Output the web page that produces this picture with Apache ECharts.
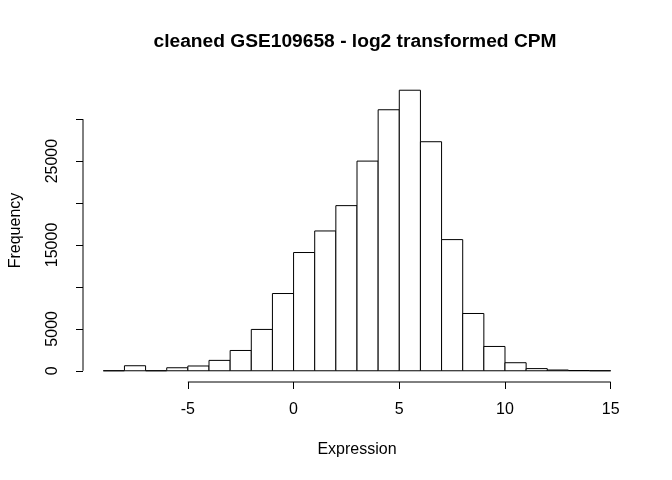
<!DOCTYPE html>
<html>
<head>
    <meta charset="utf-8">
    <title>Histogram</title>
    <script src="https://cdn.jsdelivr.net/npm/echarts@6/dist/echarts.min.js"></script>
    <style>
        html, body { margin: 0; padding: 0; background: #fff; }
    </style>
</head>
<body>
    <div id="main" style="width:672px;height:480px;"></div>
    <script type="text/javascript">
        // histogram bins (width 1) and counts
        var binStarts = [-9, -8, -7, -6, -5, -4, -3, -2, -1, 0, 1, 2, 3, 4, 5, 6, 7, 8, 9, 10, 11, 12, 13, 14];
        var counts = [0, 600, 0, 360, 570, 1240, 2420, 4930, 9210, 14100, 16670, 19690,
                      25000, 31120, 33450, 27310, 15640, 6830, 2900, 960, 260, 90, 30, 5];
        var binWidth = 1;
        var xTicks = [-5, 0, 5, 10, 15];
        var yTicks = [0, 5000, 10000, 15000, 20000, 25000, 30000];
        var yLabels = [0, 5000, 15000, 25000];

        var font = 'Liberation Sans, Arial, Helvetica, sans-serif';

        // R style 4% padding of the ranges
        var xLo = binStarts[0], xHi = binStarts[binStarts.length - 1] + binWidth;
        var xPad = (xHi - xLo) * 0.04;
        var yHi = Math.max.apply(null, counts);
        var yPad = yHi * 0.04;
        var xMin = xLo - xPad, xMax = xHi + xPad;
        var yMin = -yPad, yMax = yHi + yPad;

        var bins = binStarts.map(function (s, i) { return [s, s + binWidth, counts[i]]; });

        var myChart = echarts.init(document.getElementById('main'));

        var option = {
            animation: false,
            backgroundColor: '#fff',
            grid: {left: 79, right: 41, top: 79, bottom: 98},
            graphic: [{
                type: 'text',
                x: 355, y: 42,
                style: {
                    text: 'cleaned GSE109658 - log2 transformed CPM',
                    font: 'bold 19.2px ' + font,
                    fill: '#000',
                    textAlign: 'center',
                    textVerticalAlign: 'middle'
                }
            }],
            xAxis: {
                type: 'value',
                min: xMin, max: xMax,
                name: 'Expression',
                nameLocation: 'middle',
                nameGap: 60,
                nameTextStyle: {color: '#000', fontSize: 16, fontFamily: font},
                axisLine: {show: false, onZero: false},
                splitLine: {show: false},
                axisTick: {show: true, customValues: xTicks, length: 7, lineStyle: {color: '#000'}},
                axisLabel: {customValues: xTicks, color: '#000', fontSize: 16, fontFamily: font, margin: 20,
                    formatter: function (v) { return String(v); }}
            },
            yAxis: {
                type: 'value',
                min: yMin, max: yMax,
                name: 'Frequency',
                nameLocation: 'middle',
                nameGap: 59,
                nameTextStyle: {color: '#000', fontSize: 16, fontFamily: font},
                axisLine: {show: false, onZero: false},
                splitLine: {show: false},
                axisTick: {show: true, customValues: yTicks, length: 7, lineStyle: {color: '#000'}},
                axisLabel: {customValues: yLabels, rotate: 90, color: '#000', fontSize: 16, fontFamily: font, margin: 22,
                    formatter: function (v) { return String(v); }}
            },
            series: [
                {
                    type: 'custom',
                    data: bins,
                    encode: {x: [0, 1], y: 2},
                    silent: true,
                    renderItem: function (params, api) {
                        var p0 = api.coord([api.value(0), 0]);
                        var p1 = api.coord([api.value(1), api.value(2)]);
                        return {
                            type: 'polygon',
                            shape: {points: [[p0[0], p0[1]], [p1[0], p0[1]], [p1[0], p1[1]], [p0[0], p1[1]]]},
                            style: {fill: '#fff', stroke: '#000', lineWidth: 1}
                        };
                    }
                },
                {
                    // x axis line, from first to last tick
                    type: 'line',
                    data: [[xTicks[0], yMin], [xTicks[xTicks.length - 1], yMin]],
                    symbol: 'none', silent: true, clip: false,
                    lineStyle: {color: '#000', width: 1}
                },
                {
                    // y axis line
                    type: 'line',
                    data: [[xMin, yTicks[0]], [xMin, yTicks[yTicks.length - 1]]],
                    symbol: 'none', silent: true, clip: false,
                    lineStyle: {color: '#000', width: 1}
                }
            ]
        };

        myChart.setOption(option);
    </script>
</body>
</html>
